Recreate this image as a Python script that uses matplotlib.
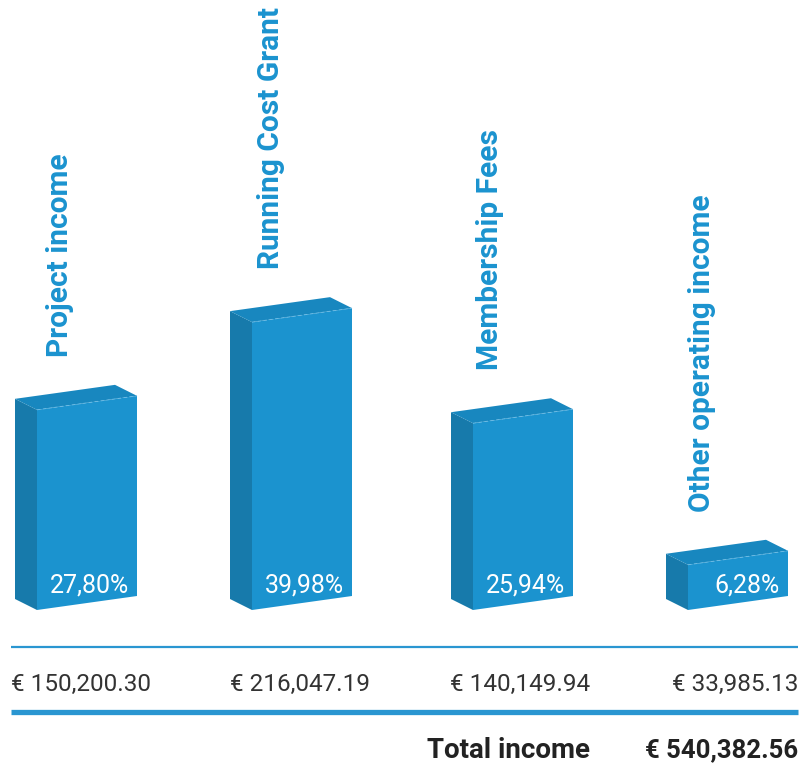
import matplotlib
matplotlib.use("Agg")
import matplotlib.pyplot as plt
from matplotlib.patches import Polygon

# income breakdown
categories = ["Project income", "Running Cost Grant", "Membership Fees", "Other operating income"]
shares = [27.80, 39.98, 25.94, 6.28]
share_labels = ["27,80%", "39,98%", "25,94%", "6,28%"]
amount_labels = ["€ 150,200.30", "€ 216,047.19", "€ 140,149.94", "€ 33,985.13"]
total_label = "€ 540,382.56"

# colours
front_c = "#1b93cf"
side_c = "#177aab"
top_c = "#1887bf"
edge_c = "#6fbde6"
line_c = "#2a96d1"
text_c = "#333333"

plt.rcParams['font.family'] = ['Roboto', 'DejaVu Sans']

fig = plt.figure(figsize=(8.1, 7.67), dpi=100)
ax = fig.add_axes([0, 0, 1, 1])
ax.set_xlim(0, 810)
ax.set_ylim(767, 0)
ax.axis('off')

# pseudo-3d box geometry (pixels)
base = 610       # front-left bottom corner
px_per_pct = 7.2
width = 100
slope = 14       # right edge sits higher than left
dx, dy = -22, -11  # depth offset
bar_x = [37, 252, 473, 688]
label_x = [60, 271, 490, 702]
amount_x = [11, 230, 450, 798]
amount_ha = ['left', 'left', 'left', 'right']

for i, (cat, pct) in enumerate(zip(categories, shares)):
    x0 = bar_x[i]
    h = pct * px_per_pct
    fl_b = (x0, base)
    fr_b = (x0 + width, base - slope)
    fr_t = (x0 + width, base - slope - h)
    fl_t = (x0, base - h)
    bl_b = (x0 + dx, base + dy)
    bl_t = (x0 + dx, base + dy - h)
    br_t = (x0 + width + dx, base - slope + dy - h)

    ax.add_patch(Polygon([fl_b, bl_b, bl_t, fl_t], closed=True, fc=side_c, ec='none'))
    ax.add_patch(Polygon([fl_t, fr_t, br_t, bl_t], closed=True, fc=top_c, ec='none'))
    ax.add_patch(Polygon([fl_b, fr_b, fr_t, fl_t], closed=True, fc=front_c, ec='none'))
    ax.plot([fl_t[0], fr_t[0]], [fl_t[1], fr_t[1]], color=edge_c, lw=0.6, ls=(0, (4, 3)))

    ax.text(x0 + width - 8, base - slope - 4, share_labels[i], color='white',
            fontsize=18, ha='right', va='baseline')
    ax.text(label_x[i], base + dy - h - 42, cat, rotation=90, color=front_c,
            fontsize=21.5, fontweight='bold', ha='center', va='bottom')
    ax.text(amount_x[i], 684, amount_labels[i], color=text_c, fontsize=17.5,
            ha=amount_ha[i], va='center')

ax.plot([11, 798], [647, 647], color=line_c, lw=1.6, solid_capstyle='butt')
ax.plot([11, 798], [712, 712], color=line_c, lw=3.8, solid_capstyle='butt')

ax.text(590, 750, "Total income", color="#222222", fontsize=20, fontweight='bold',
        ha='right', va='center')
ax.text(798, 750, total_label, color="#222222", fontsize=18.5, fontweight='bold',
        ha='right', va='center')

fig.savefig("out.png", dpi=100)
